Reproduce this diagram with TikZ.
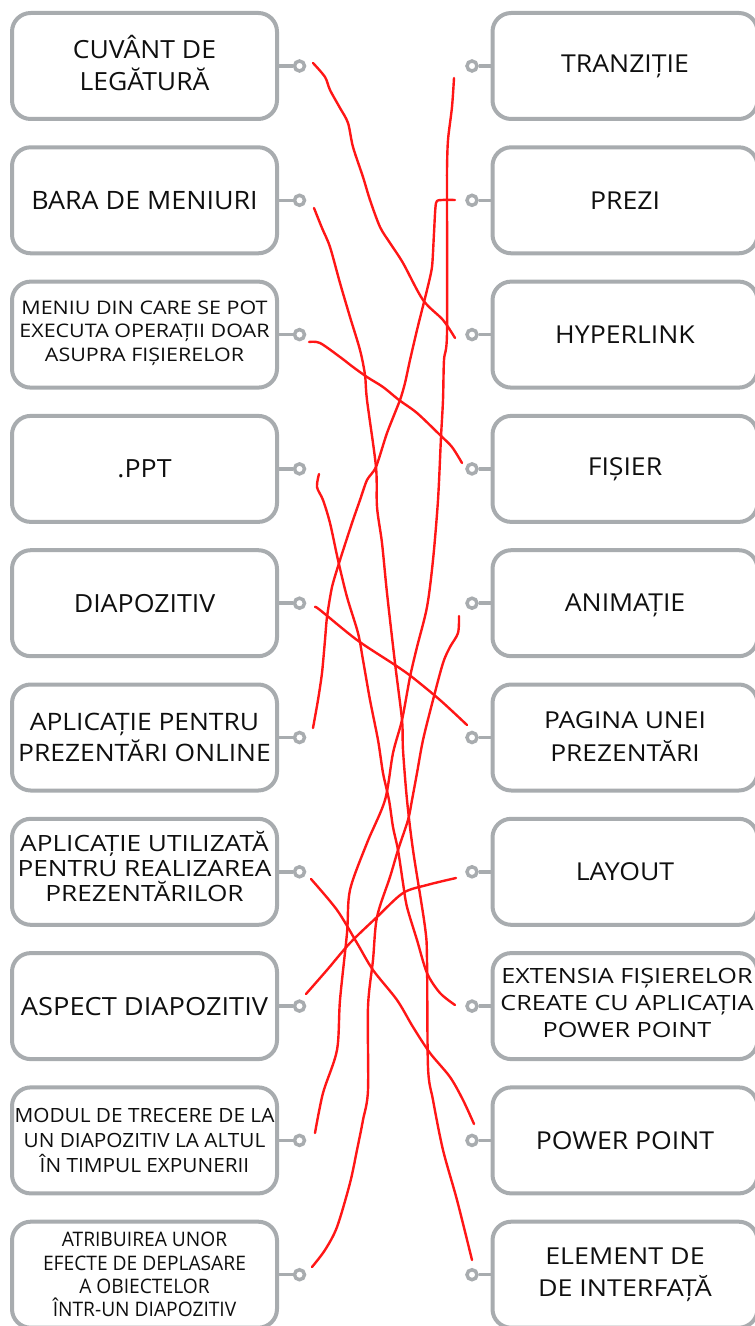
\documentclass[tikz,border=0pt]{standalone}
\usepackage{fontspec}
\setmainfont{Open Sans}
\definecolor{boxgray}{RGB}{168,172,175}
\definecolor{txtc}{RGB}{15,15,15}
\definecolor{penred}{RGB}{255,22,22}
\newcommand\fsz[2]{\fontsize{#1}{#2}\selectfont}
\tikzset{
 box/.style={draw=boxgray, line width=3pt, rounded corners=14pt, minimum width=198.75pt, minimum height=79.5pt, inner sep=0pt, fill=white},
 dot/.style={circle, draw=boxgray, line width=2.6pt, fill=white, minimum size=7.5pt, inner sep=0pt},
 stub/.style={draw=boxgray, line width=2.6pt},
 txt/.style={align=center, text=txtc, inner sep=0pt, transform shape},
 redline/.style={draw=penred, line width=1.8pt, line cap=round, line join=round},
}
\begin{document}
\begin{tikzpicture}[x=0.75pt,y=-0.75pt]
\useasboundingbox (0,0) rectangle (754,1326);
% boxes
\foreach \i/\y in {1/66,2/200.3,3/334.6,4/468.9,5/603.2,6/737.5,7/871.8,8/1006.1,9/1140.4,10/1274.7}{
  \node[box] (L\i) at (144.5,\y) {};
  \node[box] (R\i) at (625,\y) {};
  \node[dot] (l\i) at (299.5,\y) {};
  \node[dot] (r\i) at (472,\y) {};
  \draw[stub] (L\i.east) -- (l\i);
  \draw[stub] (R\i.west) -- (r\i);
}
% left texts
\node[txt, xscale=1.06, font=\fsz{18.75}{24}] (tL1) at ([yshift=2.2pt]L1.center) {CUVÂNT DE\\LEGĂTURĂ};
\node[txt, xscale=1.06, font=\fsz{19}{24}] (tL2) at (L2) {BARA DE MENIURI};
\node[txt, xscale=1.15, font=\fsz{14}{17.5}] (tL3) at ([yshift=1.2pt]L3.center) {MENIU DIN CARE SE POT\\EXECUTA OPERAȚII DOAR\\ASUPRA FIȘIERELOR};
\node[txt, xscale=1.07, font=\fsz{18.75}{24}] (tL4) at (L4) {.PPT};
\node[txt, xscale=1.07, font=\fsz{18.75}{24}] (tL5) at (L5) {DIAPOZITIV};
\node[txt, xscale=1.1, font=\fsz{18}{23.25}] (tL6) at (L6) {APLICAȚIE PENTRU\\PREZENTĂRI ONLINE};
\node[txt, xscale=1.17, font=\fsz{16.8}{19.1}] (tL7) at ([yshift=4pt]L7.center) {APLICAȚIE UTILIZATĂ\\PENTRU REALIZAREA\\PREZENTĂRILOR};
\node[txt, xscale=1.09, font=\fsz{18.75}{24}] (tL8) at (L8) {ASPECT DIAPOZITIV};
\node[txt, xscale=1.06, font=\fsz{14.7}{18.75}] (tL9) at (L9) {MODUL DE TRECERE DE LA\\UN DIAPOZITIV LA ALTUL\\ÎN TIMPUL EXPUNERII};
\node[txt, xscale=0.96, font=\fsz{15}{17.5}] (tL10) at (L10) {ATRIBUIREA UNOR\\EFECTE DE DEPLASARE\\A OBIECTELOR\\ÎNTR-UN DIAPOZITIV};
% right texts
\node[txt, xscale=1.08, font=\fsz{18.5}{24}] (tR1) at (R1) {TRANZIȚIE};
\node[txt, xscale=1.08, font=\fsz{18.5}{24}] (tR2) at (R2) {PREZI};
\node[txt, xscale=1.08, font=\fsz{18.5}{24}] (tR3) at (R3) {HYPERLINK};
\node[txt, xscale=1.08, font=\fsz{18.5}{24}] (tR4) at (R4) {FIȘIER};
\node[txt, xscale=1.08, font=\fsz{18.5}{24}] (tR5) at ([yshift=-1.5pt]R5.center) {ANIMAȚIE};
\node[txt, xscale=1.13, font=\fsz{17.5}{24.75}] (tR6) at ([yshift=1pt]R6.center) {PAGINA UNEI\\PREZENTĂRI};
\node[txt, xscale=1.08, font=\fsz{18.5}{24}] (tR7) at (R7) {LAYOUT};
\node[txt, xscale=1.2, font=\fsz{15.75}{20.25}] (tR8) at ([xshift=1.5pt,yshift=2pt]R8.center) {EXTENSIA FIȘIERELOR\\CREATE CU APLICAȚIA\\POWER POINT};
\node[txt, xscale=1.08, font=\fsz{18.5}{24}] (tR9) at (R9) {POWER POINT};
\node[txt, xscale=1.15, font=\fsz{17.5}{24}] (tR10) at (R10) {ELEMENT DE\\DE INTERFAȚĂ};
% hand-drawn answer ends
\coordinate (sL1) at (313,63);   \coordinate (sR3) at (455,338);
\coordinate (sL2) at (314,208);  \coordinate (sR10) at (472,1260);
\coordinate (sL3) at (309,342);  \coordinate (sR4) at (462,463);
\coordinate (sL4) at (319,474);  \coordinate (sR8) at (455,1005);
\coordinate (sL5) at (315,607);  \coordinate (sR6) at (467,725);
\coordinate (sL6) at (313,728);  \coordinate (sR2) at (455,200);
\coordinate (sL7) at (311,879);  \coordinate (sR9) at (474,1124);
\coordinate (sL8) at (306,994);  \coordinate (sR7) at (456,878);
\coordinate (sL9) at (315,1133); \coordinate (sR1) at (454,78);
\coordinate (sL10) at (312,1267);\coordinate (sR5) at (459,616);
% red lines
\draw[redline] plot[smooth, tension=0.5] coordinates {(sL1) (325,77) (330,90) (340,108) (348,123) (353,147) (363,177) (370,200) (380,227) (390,243) (403,263) (423,300) (443,320) (sR3)};
\draw[redline] plot[smooth, tension=0.5] coordinates {(sL2) (322,228) (330,247) (340,283) (350,317) (360,350) (365,375) (367,400) (376,467) (377,507) (382,543) (387,593) (395,663) (402,720) (403,750) (407,800) (413,850) (425,927) (427,960) (428,1067) (433,1100) (443,1150) (457,1200) (sR10)};
\draw[redline] plot[smooth, tension=0.5] coordinates {(sL3) (320,343) (340,357) (353,367) (367,377) (383,387) (399,400) (417,413) (440,435) (452,447) (sR4)};
\draw[redline] plot[smooth, tension=0.5] coordinates {(sL4) (317,487) (323,500) (330,523) (338,560) (347,597) (358,633) (363,660) (370,700) (378,740) (383,773) (389,800) (393,827) (398,850) (403,883) (407,907) (417,940) (427,973) (440,993) (sR8)};
\draw[redline] plot[smooth, tension=0.5] coordinates {(sL5) (320,610) (357,640) (395,665) (412,677) (440,700) (sR6)};
\draw[redline] plot[smooth, tension=0.4] coordinates {(sR2) (442,200) (436,203) (434,233) (432,267) (427,290) (422,310) (417,330) (410,360) (405,383) (400,400) (387,433) (376,467) (367,480) (360,500) (352,523) (340,560) (332,587) (327,617) (325,640) (322,673) (318,700) (sL6)};
\draw[redline] plot[smooth, tension=0.5] coordinates {(sL7) (337,910) (357,943) (373,970) (397,1000) (413,1027) (430,1053) (450,1077) (463,1100) (sR9)};
\draw[redline] plot[smooth, tension=0.5] coordinates {(sL8) (327,970) (350,943) (377,917) (403,893) (427,885) (sR7)};
\draw[redline] plot[smooth, tension=0.5] coordinates {(sR1) (452,107) (448,140) (447,170) (447,200) (447,333) (444,360) (443,400) (441,437) (438,500) (433,560) (427,607) (417,647) (410,677) (402,720) (393,753) (385,800) (367,843) (350,890) (347,933) (340,1000) (337,1050) (323,1093) (sL9)};
\draw[redline] plot[smooth, tension=0.5] coordinates {(sR5) (458,633) (450,647) (443,663) (433,700) (423,740) (417,773) (412,800) (408,820) (398,850) (390,877) (377,917) (373,960) (368,1007) (368,1090) (363,1120) (357,1150) (350,1183) (337,1227) (325,1250) (sL10)};
\end{tikzpicture}
\end{document}
